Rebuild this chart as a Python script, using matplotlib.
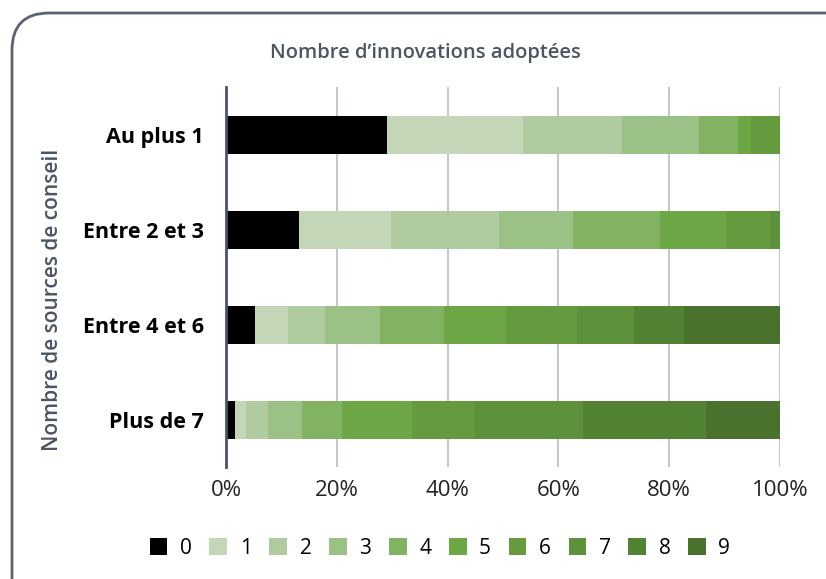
import numpy as np
import matplotlib.pyplot as plt
from matplotlib.patches import FancyBboxPatch

plt.rcParams["font.family"] = ["Open Sans", "DejaVu Sans"]

categories = ["Au plus 1", "Entre 2 et 3", "Entre 4 et 6", "Plus de 7"]
niveaux = ["0", "1", "2", "3", "4", "5", "6", "7", "8", "9"]

# part (%) of each number of adopted innovations, per group
au_plus_1 = [29.0, 24.7, 17.7, 14.0, 7.0, 2.4, 5.2, 0.0, 0.0, 0.0]
entre_2_3 = [13.1, 16.6, 19.5, 13.5, 15.7, 11.8, 8.0, 1.8, 0.0, 0.0]
entre_4_6 = [5.2, 6.0, 6.7, 9.9, 11.6, 11.2, 12.8, 10.3, 8.9, 17.4]
plus_de_7 = [1.6, 2.0, 4.0, 6.1, 7.3, 12.5, 11.2, 19.8, 22.1, 13.4]

couleurs = ["#000000", "#c3d7b8", "#afcb9f", "#9bc187", "#82b362",
            "#6ca645", "#659a3e", "#5e913b", "#528234", "#4a712d"]

data = np.array([au_plus_1, entre_2_3, entre_4_6, plus_de_7])

fig = plt.figure(figsize=(8.26, 5.79), dpi=100)
ax = fig.add_axes([0.2736, 0.1934, 0.6707, 0.6563])

# rounded frame around the whole chart
cadre = FancyBboxPatch((12 / 826, -0.2), 1.2, 1.2 - 13 / 579,
                       boxstyle="round,pad=0,rounding_size=0.045",
                       transform=fig.transFigure, facecolor="none",
                       edgecolor="#5b6270", linewidth=2, clip_on=False,
                       mutation_aspect=826 / 579)
fig.patches.append(cadre)

y = np.arange(len(categories))
gauche = np.zeros(len(categories))
for i, niv in enumerate(niveaux):
    ax.barh(y, data[:, i], left=gauche, height=0.4, color=couleurs[i],
            label=niv, zorder=3)
    gauche += data[:, i]

ax.set_xlim(0, 100)
ax.set_ylim(3.5, -0.5)
ax.set_xticks([0, 20, 40, 60, 80, 100])
ax.set_xticklabels(["0%", "20%", "40%", "60%", "80%", "100%"])
ax.set_yticks(y)
ax.set_yticklabels(categories, fontweight="bold", fontsize=15.5)
ax.tick_params(axis="x", length=0, labelsize=16, pad=9, colors="#222222")
ax.tick_params(axis="y", length=0, pad=16)

ax.grid(axis="x", color="#b7bcc6", linewidth=1.2, zorder=0)
for s in ["top", "right", "bottom"]:
    ax.spines[s].set_visible(False)
ax.spines["left"].set_color("#4b5563")
ax.spines["left"].set_linewidth(2)
ax.spines["left"].set_zorder(4)

fig.text(425 / 826, 1 - 53 / 579, "Nombre d\u2019innovations adoptées",
         ha="center", va="center", fontsize=14.5, fontweight="semibold",
         color="#4b5563")
fig.text(52 / 826, 1 - 300 / 579, "Nombre de sources de conseil",
         rotation=90, ha="center", va="center", fontsize=15,
         fontweight="semibold", color="#4b5563")

fig.legend(loc="center", bbox_to_anchor=(440 / 826, 1 - 548 / 579),
           ncol=10, frameon=False, fontsize=15, handlelength=0.85,
           handleheight=0.85, handletextpad=0.6, columnspacing=0.85)

fig.savefig("out.png", dpi=100)
